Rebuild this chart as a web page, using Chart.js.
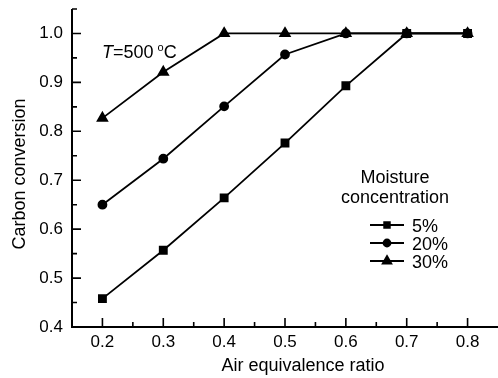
<!DOCTYPE html>
<html>
<head>
<meta charset="utf-8">
<script src="https://cdn.jsdelivr.net/npm/chart.js@4/dist/chart.umd.min.js"></script>
<style>
  body { margin: 0; background: #fff; }
  canvas { display: block; }
</style>
</head>
<body>
<canvas id="chart" width="498" height="378"></canvas>
<script>
// données
const ratios = [0.2, 0.3, 0.4, 0.5, 0.6, 0.7, 0.8];
const conv5 = [0.458, 0.557, 0.664, 0.776, 0.893, 1.0, 1.0];
const conv20 = [0.650, 0.744, 0.851, 0.957, 1.0, 1.0, 1.0];
const conv30 = [0.827, 0.921, 1.0, 1.0, 1.0, 1.0, 1.0];
const seriesLabels = ['5%', '20%', '30%'];
const xMajor = [0.2, 0.3, 0.4, 0.5, 0.6, 0.7, 0.8];
const xMinor = [0.25, 0.35, 0.45, 0.55, 0.65, 0.75];
const yMajor = [0.4, 0.5, 0.6, 0.7, 0.8, 0.9, 1.0];
const yMinor = [0.45, 0.55, 0.65, 0.75, 0.85, 0.95, 1.05];

const FONT = '"Liberation Sans", Arial, sans-serif';
const pts = arr => arr.map((v, i) => ({ x: ratios[i], y: v }));

const serie = (label, values, style, r, order) => ({
    label: label, data: pts(values), order: order, clip: false,
    borderColor: '#000', backgroundColor: '#000', borderWidth: 1.8,
    pointStyle: style, pointRadius: r, pointHoverRadius: r, tension: 0
});

// ticks vers l'intérieur + axes
const axesPlugin = {
    id: 'axes',
    afterDatasetsDraw(chart) {
        const { ctx, chartArea: a, scales: { x, y } } = chart;
        ctx.save();
        ctx.strokeStyle = '#000';
        ctx.lineWidth = 2;
        ctx.beginPath();
        ctx.moveTo(a.left, a.top); ctx.lineTo(a.left, a.bottom); ctx.lineTo(a.right, a.bottom);
        ctx.stroke();
        ctx.lineWidth = 1.6;
        ctx.beginPath();
        xMajor.forEach(v => { const px = x.getPixelForValue(v); ctx.moveTo(px, a.bottom); ctx.lineTo(px, a.bottom - 9); });
        xMinor.forEach(v => { const px = x.getPixelForValue(v); ctx.moveTo(px, a.bottom); ctx.lineTo(px, a.bottom - 5); });
        yMajor.forEach(v => { const py = y.getPixelForValue(v); ctx.moveTo(a.left, py); ctx.lineTo(a.left + 9, py); });
        yMinor.forEach(v => { const py = y.getPixelForValue(v); ctx.moveTo(a.left, py); ctx.lineTo(a.left + 5, py); });
        ctx.stroke();

        // titres des axes
        ctx.fillStyle = '#000';
        ctx.font = '18px ' + FONT;
        ctx.textAlign = 'center';
        ctx.textBaseline = 'alphabetic';
        ctx.fillText('Air equivalence ratio', 303, 371);
        ctx.save();
        ctx.translate(25, 174);
        ctx.rotate(-Math.PI / 2);
        ctx.fillText('Carbon conversion', 0, 0);
        ctx.restore();

        // annotation T=500 °C
        ctx.textAlign = 'left';
        let tx = 102;
        ctx.font = 'italic 18px ' + FONT;
        ctx.fillText('T', tx, 58);
        tx += ctx.measureText('T').width;
        ctx.font = '18px ' + FONT;
        ctx.fillText('=500 ', tx, 58);
        tx += ctx.measureText('=500 ').width - 1;
        ctx.font = '11px ' + FONT;
        ctx.fillText('o', tx, 51);
        tx += ctx.measureText('o').width;
        ctx.font = '18px ' + FONT;
        ctx.fillText('C', tx, 58);

        // légende
        ctx.textAlign = 'center';
        ctx.fillText('Moisture', 395, 183);
        ctx.fillText('concentration', 395, 203);
        ctx.textAlign = 'left';
        const rowY = [225, 243, 261];
        const styles = [['rect', 4], ['circle', 3.5], ['triangle', 5]];
        rowY.forEach((ry, i) => {
            ctx.lineWidth = 1.8;
            ctx.beginPath();
            ctx.moveTo(370, ry); ctx.lineTo(404, ry);
            ctx.stroke();
            Chart.helpers.drawPoint(ctx, { pointStyle: styles[i][0], radius: styles[i][1], rotation: 0, borderWidth: 1 }, 387, ry);
            ctx.fillText(seriesLabels[i], 412, ry + 6.5);
        });
        ctx.restore();
    }
};

new Chart(document.getElementById('chart'), {
    type: 'line',
    data: {
        datasets: [
            serie(seriesLabels[0], conv5, 'rect', 5, 2),
            serie(seriesLabels[1], conv20, 'circle', 4, 0),
            serie(seriesLabels[2], conv30, 'triangle', 5.5, 1)
        ]
    },
    options: {
        responsive: false,
        animation: false,
        layout: { autoPadding: false, padding: { top: 9, right: 0, left: 0, bottom: 0 } },
        plugins: { legend: { display: false }, tooltip: { enabled: false } },
        scales: {
            x: {
                type: 'linear', min: 0.15, max: 0.85,
                grid: { display: false, drawTicks: false },
                border: { display: false },
                afterBuildTicks: s => { s.ticks = xMajor.map(v => ({ value: v })); },
                afterFit: s => { s.height = 51; s.paddingLeft = 0; s.paddingRight = 0; },
                ticks: { padding: 5, color: '#000', font: { family: FONT, size: 17 }, callback: v => v.toFixed(1), maxRotation: 0 }
            },
            y: {
                type: 'linear', min: 0.4, max: 1.05,
                grid: { display: false, drawTicks: false },
                border: { display: false },
                afterBuildTicks: s => { s.ticks = yMajor.map(v => ({ value: v })); },
                afterFit: s => { s.width = 72; s.paddingTop = 0; s.paddingBottom = 0; },
                ticks: { padding: 9, color: '#000', font: { family: FONT, size: 17 }, callback: v => v.toFixed(1) }
            }
        }
    },
    plugins: [axesPlugin]
});
</script>
</body>
</html>
